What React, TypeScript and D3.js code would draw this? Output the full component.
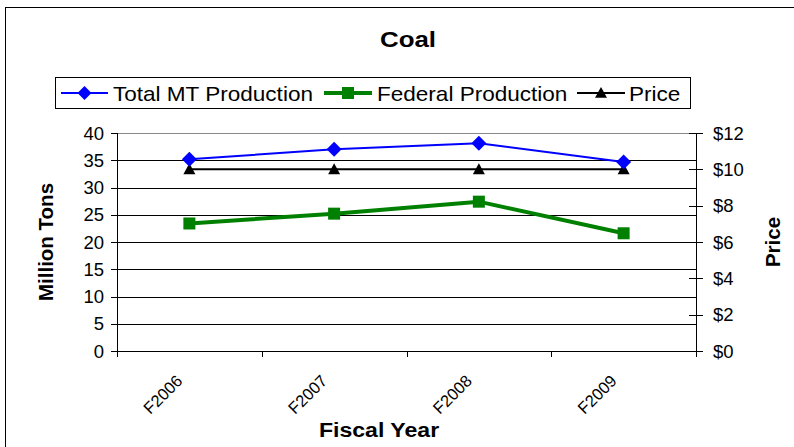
import React from "react";
import * as d3 from "d3";

const categories = ["F2006", "F2007", "F2008", "F2009"];
const totalMT = [35.2, 37.0, 38.1, 34.7];
const federal = [23.4, 25.2, 27.4, 21.6];
const price = [10, 10, 10, 10];
const leftTicks = [0, 5, 10, 15, 20, 25, 30, 35, 40];
const rightTicks = [0, 2, 4, 6, 8, 10, 12];

const W = 794;
const H = 447;
const FONT = "Liberation Sans, Arial, sans-serif";
const SX = 1.1;

export default function App() {
  const left = 117, right = 696, top = 133, bottom = 351;
  const x = d3.scaleBand<string>().domain(categories).range([left, right]);
  const y = d3.scaleLinear().domain([0, 40]).range([bottom, top]);
  const y2 = d3.scaleLinear().domain([0, 12]).range([bottom, top]);
  const cx = (c: string) => (x(c) as number) + x.bandwidth() / 2;

  const lineL = d3.line<number>().x((_, i) => cx(categories[i])).y((v) => y(v));
  const lineR = d3.line<number>().x((_, i) => cx(categories[i])).y((v) => y2(v));
  const diamond = (px: number, py: number, r: number) =>
    `M${px},${py - r}L${px + r},${py}L${px},${py + r}L${px - r},${py}Z`;
  const tri = (px: number, py: number, r: number) =>
    `M${px},${py - r}L${px + r},${py + r * 0.8}L${px - r},${py + r * 0.8}Z`;

  const bounds = x.domain().map((c) => x(c) as number).concat([right]);

  return (
    <svg width={W} height={H} style={{ position: "absolute", left: 0, top: 0, background: "#fff" }} fontFamily={FONT}>
      <rect x={5.5} y={7.5} width={W + 10} height={H + 10} fill="#fff" stroke="#000" strokeWidth={1} />
      <text transform={`translate(408,47) scale(1.15,1)`} textAnchor="middle" fontSize={22.5} fontWeight="bold">Coal</text>

      {/* legend */}
      <rect x={55.5} y={77.5} width={635} height={31} fill="#fff" stroke="#000" strokeWidth={1} />
      <line x1={61} x2={108} y1={93} y2={93} stroke="#0000ff" strokeWidth={2} />
      <path d={diamond(84.5, 93, 7)} fill="#0000ff" />
      <text transform={`translate(113,100.5) scale(${SX},1)`} fontSize={20.5}>Total MT Production</text>
      <line x1={324} x2={372} y1={93} y2={93} stroke="#008000" strokeWidth={4} />
      <rect x={342} y={87} width={12} height={12} fill="#008000" />
      <text transform={`translate(377,100.5) scale(${SX},1)`} fontSize={20.5}>Federal Production</text>
      <line x1={577} x2={625} y1={93} y2={93} stroke="#000" strokeWidth={2} />
      <path d={tri(601, 93, 6)} fill="#000" />
      <text transform={`translate(629,100.5) scale(${SX},1)`} fontSize={20.5}>Price</text>

      {/* gridlines */}
      {leftTicks.map((t) => (
        <line key={"g" + t} x1={left} x2={right} y1={Math.round(y(t)) + 0.5} y2={Math.round(y(t)) + 0.5} stroke={t === 40 ? "#888" : "#000"} strokeWidth={1} />
      ))}

      {/* left axis */}
      <line x1={left + 0.5} x2={left + 0.5} y1={top} y2={bottom} stroke="#000" />
      {leftTicks.map((t) => (
        <g key={"l" + t}>
          <line x1={left - 6} x2={left} y1={Math.round(y(t)) + 0.5} y2={Math.round(y(t)) + 0.5} stroke="#000" />
          <text x={104} y={y(t) + 6.5} textAnchor="end" fontSize={18.5}>{t}</text>
        </g>
      ))}
      {/* right axis */}
      <line x1={right + 0.5} x2={right + 0.5} y1={top} y2={bottom + 6} stroke="#000" />
      {rightTicks.map((t) => (
        <g key={"r" + t}>
          <line x1={right - 7} x2={right + 7} y1={Math.round(y2(t)) + 0.5} y2={Math.round(y2(t)) + 0.5} stroke="#000" />
          <text x={713} y={y2(t) + 6.5} textAnchor="start" fontSize={18.5}>{"$" + t}</text>
        </g>
      ))}
      {/* x axis */}
      <line x1={left} x2={right} y1={bottom + 0.5} y2={bottom + 0.5} stroke="#000" />
      {bounds.map((b, i) => (
        <line key={"xt" + i} x1={Math.round(b) + 0.5} x2={Math.round(b) + 0.5} y1={bottom} y2={bottom + 6} stroke="#000" />
      ))}
      {categories.map((c) => (
        <text key={"xl" + c} transform={`translate(${cx(c) - 6},${382}) rotate(-45)`} textAnchor="end" fontSize={16.5}>{c}</text>
      ))}

      <text transform={`translate(379,437) scale(${SX},1)`} textAnchor="middle" fontSize={21} fontWeight="bold">Fiscal Year</text>
      <text transform={`translate(53,${(top + bottom) / 2}) rotate(-90)`} textAnchor="middle" fontSize={20.5} fontWeight="bold">Million Tons</text>
      <text transform={`translate(780,${(top + bottom) / 2}) rotate(-90)`} textAnchor="middle" fontSize={20.5} fontWeight="bold">Price</text>

      {/* series */}
      <path d={lineR(price) || ""} fill="none" stroke="#000" strokeWidth={2} />
      <path d={lineL(federal) || ""} fill="none" stroke="#008000" strokeWidth={4} />
      <path d={lineL(totalMT) || ""} fill="none" stroke="#0000ff" strokeWidth={2} />
      {price.map((v, i) => (
        <path key={"p" + i} d={tri(cx(categories[i]), y2(v), 6)} fill="#000" />
      ))}
      {federal.map((v, i) => (
        <rect key={"f" + i} x={cx(categories[i]) - 6} y={y(v) - 6} width={12} height={12} fill="#008000" />
      ))}
      {totalMT.map((v, i) => (
        <path key={"t" + i} d={diamond(cx(categories[i]), y(v), 7.5)} fill="#0000ff" />
      ))}
    </svg>
  );
}
